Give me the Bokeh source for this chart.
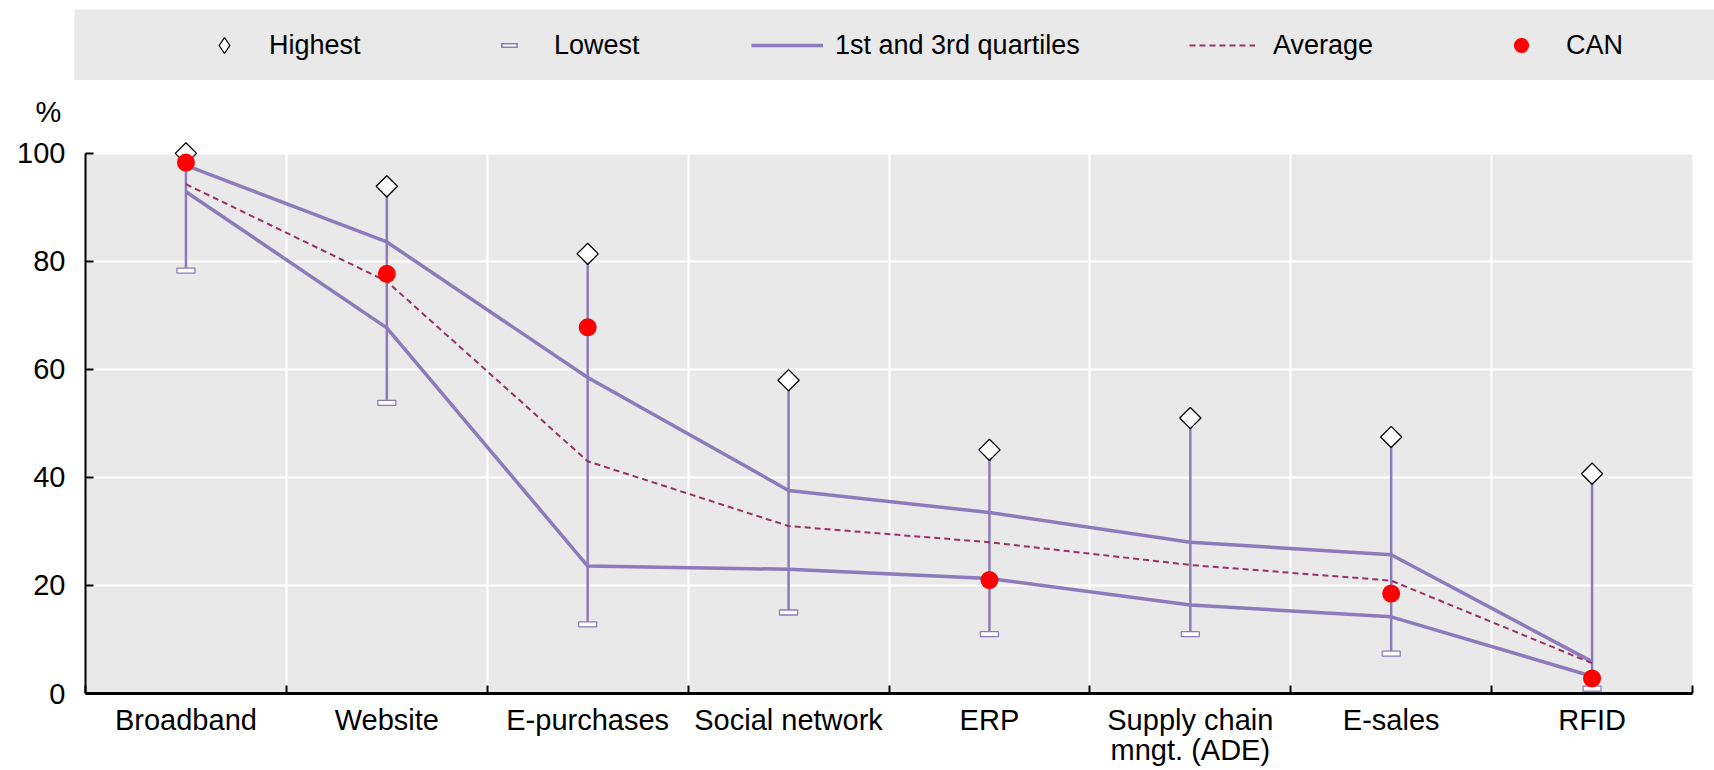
import numpy as np
from bokeh.plotting import figure
from bokeh.models import (ColumnDataSource, FixedTicker, Legend, LegendItem,
                          BoxAnnotation, Title)
from bokeh.embed import file_html
from bokeh.resources import INLINE

# ---------------- data ----------------
categories = ["Broadband", "Website", "E-purchases", "Social network", "ERP",
              "Supply chain\nmngt. (ADE)", "E-sales", "RFID"]
highest = [100.0, 93.9, 81.4, 58.0, 45.1, 51.0, 47.5, 40.7]
lowest = [78.3, 53.8, 12.8, 15.0, 11.0, 11.0, 7.4, 0.9]
q3 = [97.8, 83.6, 58.5, 37.6, 33.5, 28.0, 25.7, 5.9]
q1 = [92.9, 67.7, 23.6, 23.0, 21.3, 16.4, 14.2, 3.2]
average = [94.3, 76.3, 43.0, 31.0, 28.0, 23.8, 20.9, 5.6]
can = [98.3, 77.7, 67.8, np.nan, 21.0, np.nan, 18.5, 2.8]
y_ticks = [0, 20, 40, 60, 80, 100]

# ---------------- styles ----------------
PURPLE = "#8C7BBC"
AVG = "#993366"
RED = "#FF0000"
GRAY = "#E9E9E9"
FONT = "Liberation Sans"

n = len(categories)
xc = np.arange(n) + 0.5
src = ColumnDataSource(dict(x=xc, hi=np.array(highest), lo=np.array(lowest),
                            q1=np.array(q1), q3=np.array(q3),
                            avg=np.array(average), can=np.array(can, dtype=float)))

# ---------------- main plot ----------------
p = figure(width=1714, height=690, x_range=(0, n), y_range=(0, 102.2),
           output_backend="svg", toolbar_location=None,
           min_border_left=85, min_border_right=22, min_border_top=61, min_border_bottom=77,
           background_fill_color="white", border_fill_color="white",
           outline_line_color=None)

p.add_layout(BoxAnnotation(bottom=0, top=100, left=0, right=n, fill_color=GRAY,
                           fill_alpha=1, line_color=None, level="image"))

p.segment(x0="x", y0="lo", x1="x", y1="hi", source=src, line_color=PURPLE, line_width=2.5)
p.line("x", "q3", source=src, line_color=PURPLE, line_width=3.5)
p.line("x", "q1", source=src, line_color=PURPLE, line_width=3.5)
p.line("x", "avg", source=src, line_color=AVG, line_width=2, line_dash="6 4")
p.rect("x", "lo", width=18, height=5, width_units="screen", height_units="screen",
       source=src, fill_color="white", line_color=PURPLE, line_width=1.3)
p.scatter("x", "hi", source=src, marker="square", angle=np.pi / 4, size=15,
          fill_color="white", line_color="black", line_width=1.3)
p.scatter("x", "can", source=src, marker="circle", size=18, fill_color=RED, line_color=None)

# axes
xa = p.xaxis[0]
xa.ticker = FixedTicker(ticks=list(xc), minor_ticks=list(range(n + 1)))
xa.major_label_overrides = {float(v): c for v, c in zip(xc, categories)}
xa.major_tick_line_color = None
xa.minor_tick_in = 8
xa.minor_tick_out = 0
xa.minor_tick_line_color = "black"
xa.minor_tick_line_width = 2
xa.axis_line_color = "black"
xa.axis_line_width = 3
xa.major_label_text_font = FONT
xa.major_label_text_font_size = "29px"
xa.major_label_text_color = "black"
xa.major_label_text_line_height = 0.96
xa.major_label_standoff = 4

ya = p.yaxis[0]
ya.ticker = FixedTicker(ticks=y_ticks)
ya.bounds = (0, 100)
ya.major_tick_in = 8
ya.major_tick_out = 0
ya.major_tick_line_width = 2
ya.major_tick_line_color = "black"
ya.minor_tick_line_color = None
ya.axis_line_width = 2
ya.axis_line_color = "black"
ya.major_label_text_font = FONT
ya.major_label_text_font_size = "29px"
ya.major_label_text_color = "black"
ya.major_label_standoff = 20

p.xgrid.ticker = FixedTicker(ticks=list(range(n + 1)))
p.xgrid.grid_line_color = "white"
p.xgrid.grid_line_width = 2
p.ygrid.ticker = FixedTicker(ticks=y_ticks)
p.ygrid.grid_line_color = "white"
p.ygrid.grid_line_width = 2

p.add_layout(Title(text="%", align="left", offset=-50, standoff=27,
                   text_font=FONT, text_font_size="29px", text_font_style="normal",
                   text_color="black"), "above")

# ---------------- legend band ----------------
lf = figure(width=1714, height=80, output_backend="svg", toolbar_location=None,
            x_range=(0, 1), y_range=(0, 1),
            x_axis_type=None, y_axis_type=None,
            min_border_left=74, min_border_right=0, min_border_top=9, min_border_bottom=0,
            background_fill_color=GRAY, border_fill_color="white", outline_line_color=None)
lf.xgrid.visible = False
lf.ygrid.visible = False

hx, hy = [-5, -4], [-5, -4]
r_hi = lf.scatter(hx, hy, marker="diamond", fill_color="white", line_color="black",
                  line_width=1.3)
r_lo1 = lf.scatter(hx, hy, marker="dash", line_color=PURPLE, line_width=5)
r_lo2 = lf.scatter(hx, hy, marker="dash", line_color="white", line_width=2)
r_q = lf.line(hx, hy, line_color=PURPLE, line_width=3.5)
r_avg = lf.line(hx, hy, line_color=AVG, line_width=2, line_dash="6 4")
r_can = lf.scatter(hx, hy, marker="circle", fill_color=RED, line_color=None)


def add_legend(label, renderers, x, y, gw, gh, standoff):
    leg = Legend(items=[LegendItem(label=label, renderers=renderers)],
                 orientation="horizontal", location=(x, y),
                 glyph_width=gw, glyph_height=gh, label_standoff=standoff,
                 padding=0, margin=0, spacing=0,
                 border_line_color=None, background_fill_alpha=0,
                 label_text_font=FONT, label_text_font_size="27px",
                 label_text_color="black")
    lf.add_layout(leg)


add_legend("Highest", [r_hi], 130, 15, 40, 40, 25)
add_legend("Lowest", [r_lo1], 414, 14, 42, 42, 24)
add_legend(" ", [r_lo2], 418, 18, 34, 34, 0)
add_legend("1st and 3rd quartiles", [r_q], 677, 19, 72, 32, 12)
add_legend("Average", [r_avg], 1115, 19, 66, 32, 18)
add_legend("CAN", [r_can], 1428, 16, 38, 38, 26)

open("out.html", "w").write(file_html([lf, p], INLINE))
